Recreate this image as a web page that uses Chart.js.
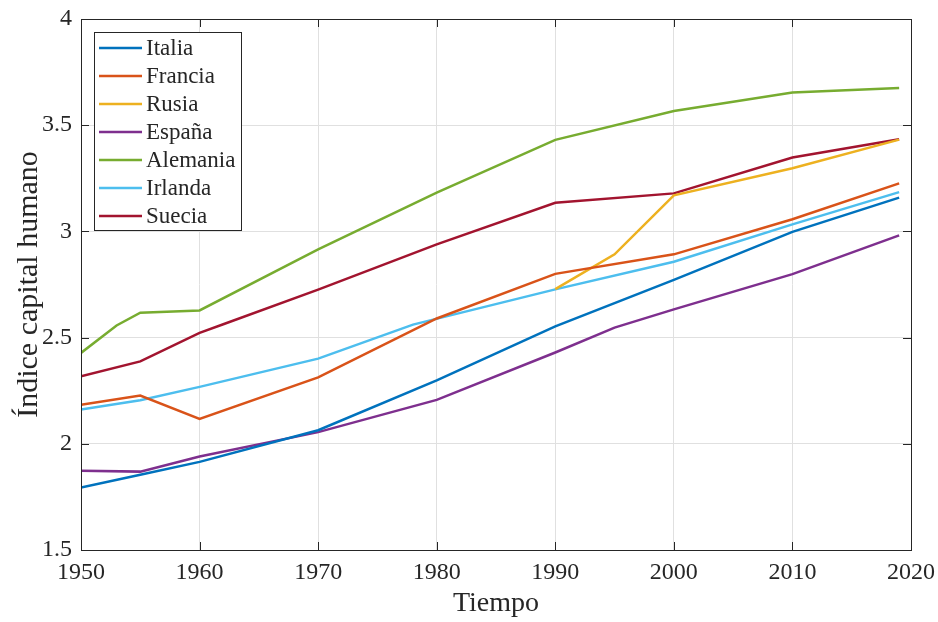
<!DOCTYPE html>
<html>
<head>
<meta charset="utf-8">
<script src="https://cdn.jsdelivr.net/npm/chart.js@4.4.0/dist/chart.umd.min.js"></script>
<style>
  html, body { margin: 0; padding: 0; background: #fff; }
</style>
</head>
<body>
<canvas id="chart" width="938" height="622"></canvas>
<script>
// datos
const aniosItalia = [1950, 1955, 1960, 1970, 1980, 1990, 2000, 2010, 2019]
const italia = [1.794, 1.854, 1.915, 2.064, 2.299, 2.553, 2.772, 2.998, 3.159]

const aniosFrancia = [1950, 1955, 1960, 1970, 1980, 1990, 2000, 2010, 2019]
const francia = [2.184, 2.227, 2.117, 2.313, 2.590, 2.800, 2.892, 3.057, 3.226]

const aniosRusia = [1990, 1995, 2000, 2010, 2019]
const rusia = [2.728, 2.892, 3.170, 3.297, 3.432]

const aniosEspana = [1950, 1955, 1960, 1970, 1980, 1990, 1995, 2000, 2010, 2019]
const espana = [1.873, 1.869, 1.940, 2.055, 2.207, 2.430, 2.547, 2.633, 2.799, 2.981]

const aniosAlemania = [1950, 1953, 1955, 1960, 1970, 1980, 1990, 2000, 2010, 2019]
const alemania = [2.428, 2.557, 2.617, 2.628, 2.915, 3.183, 3.431, 3.567, 3.654, 3.675]

const aniosIrlanda = [1950, 1955, 1960, 1970, 1978, 1990, 2000, 2010, 2019]
const irlanda = [2.161, 2.205, 2.268, 2.401, 2.561, 2.727, 2.857, 3.033, 3.185]

const aniosSuecia = [1950, 1955, 1960, 1962, 1970, 1980, 1990, 2000, 2010, 2019]
const suecia = [2.318, 2.388, 2.522, 2.563, 2.726, 2.939, 3.135, 3.179, 3.348, 3.434]

const fuente = '"Liberation Serif", "Times New Roman", serif'
const gris = '#262626'

function puntos(anios, valores){
    return anios.map((a, i) => ({x: a, y: valores[i]}))
}

function serie(label, anios, valores, color){
    return {
        label: label,
        data: puntos(anios, valores),
        borderColor: color,
        backgroundColor: color,
        borderWidth: 2.5,
        pointRadius: 0,
        tension: 0,
        fill: false
    }
}

// marco y marcas hacia adentro, estilo matlab
const marco = {
    id: 'marco',
    afterDatasetsDraw(chart){
        const ctx = chart.ctx
        const a = chart.chartArea
        const sx = chart.scales.x
        const sy = chart.scales.y
        const largo = 8
        ctx.save()
        ctx.strokeStyle = gris
        ctx.lineWidth = 1
        ctx.strokeRect(a.left + 0.5, a.top + 0.5, a.right - a.left, a.bottom - a.top)
        ctx.beginPath()
        sx.ticks.forEach(t => {
            const px = Math.round(sx.getPixelForValue(t.value)) + 0.5
            ctx.moveTo(px, a.bottom); ctx.lineTo(px, a.bottom - largo)
            ctx.moveTo(px, a.top); ctx.lineTo(px, a.top + largo)
        })
        sy.ticks.forEach(t => {
            const py = Math.round(sy.getPixelForValue(t.value)) + 0.5
            ctx.moveTo(a.left, py); ctx.lineTo(a.left + largo, py)
            ctx.moveTo(a.right, py); ctx.lineTo(a.right - largo, py)
        })
        ctx.stroke()
        ctx.restore()
    }
}

// leyenda con caja dentro del area
const leyenda = {
    id: 'leyenda',
    afterDraw(chart){
        const ctx = chart.ctx
        const a = chart.chartArea
        const x0 = a.left + 13
        const y0 = a.top + 13
        const ancho = 147
        const alto = 198
        ctx.save()
        ctx.fillStyle = '#fff'
        ctx.fillRect(x0, y0, ancho, alto)
        ctx.strokeStyle = gris
        ctx.lineWidth = 1
        ctx.strokeRect(x0 + 0.5, y0 + 0.5, ancho, alto)
        ctx.font = '23px ' + fuente
        ctx.textBaseline = 'middle'
        chart.data.datasets.forEach((ds, i) => {
            const y = y0 + 16 + i * 28
            ctx.strokeStyle = ds.borderColor
            ctx.lineWidth = 2.5
            ctx.beginPath()
            ctx.moveTo(x0 + 5, y)
            ctx.lineTo(x0 + 48, y)
            ctx.stroke()
            ctx.fillStyle = gris
            ctx.fillText(ds.label, x0 + 52, y + 1)
        })
        ctx.restore()
    }
}

const ctx = document.getElementById('chart')

new Chart(ctx, {
    type: 'line',
    data: {
        datasets: [
            serie('Italia', aniosItalia, italia, '#0072BD'),
            serie('Francia', aniosFrancia, francia, '#D95319'),
            serie('Rusia', aniosRusia, rusia, '#EDB120'),
            serie('España', aniosEspana, espana, '#7E2F8E'),
            serie('Alemania', aniosAlemania, alemania, '#77AC30'),
            serie('Irlanda', aniosIrlanda, irlanda, '#4DBEEE'),
            serie('Suecia', aniosSuecia, suecia, '#A2142F')
        ]
    },
    options: {
        responsive: false,
        animation: false,
        devicePixelRatio: 1,
        layout: {padding: {left: 0, right: 27, top: 19, bottom: 0}},
        plugins: {
            legend: {display: false},
            tooltip: {enabled: false}
        },
        scales: {
            x: {
                type: 'linear',
                min: 1950,
                max: 2020,
                afterFit(scale){
                    scale.height = 72
                    scale.paddingLeft = 0
                    scale.paddingRight = 0
                },
                ticks: {
                    stepSize: 10,
                    padding: 8,
                    color: gris,
                    font: {family: fuente, size: 24},
                    maxRotation: 0,
                    callback: v => String(v)
                },
                grid: {color: '#e0e0e0', drawTicks: false},
                border: {display: false},
                title: {
                    display: true,
                    text: 'Tiempo',
                    color: gris,
                    font: {family: fuente, size: 28},
                    padding: {top: 0, bottom: 2}
                }
            },
            y: {
                min: 1.5,
                max: 4,
                afterFit(scale){
                    scale.width = 81
                    scale.paddingTop = 0
                    scale.paddingBottom = 0
                },
                ticks: {
                    stepSize: 0.5,
                    padding: 9,
                    color: gris,
                    font: {family: fuente, size: 24},
                    callback: v => String(v)
                },
                grid: {color: '#e0e0e0', drawTicks: false},
                border: {display: false},
                title: {
                    display: true,
                    text: 'Índice capital humano',
                    color: gris,
                    font: {family: fuente, size: 30},
                    padding: {top: 11, bottom: 0}
                }
            }
        }
    },
    plugins: [marco, leyenda]
})
</script>
</body>
</html>
